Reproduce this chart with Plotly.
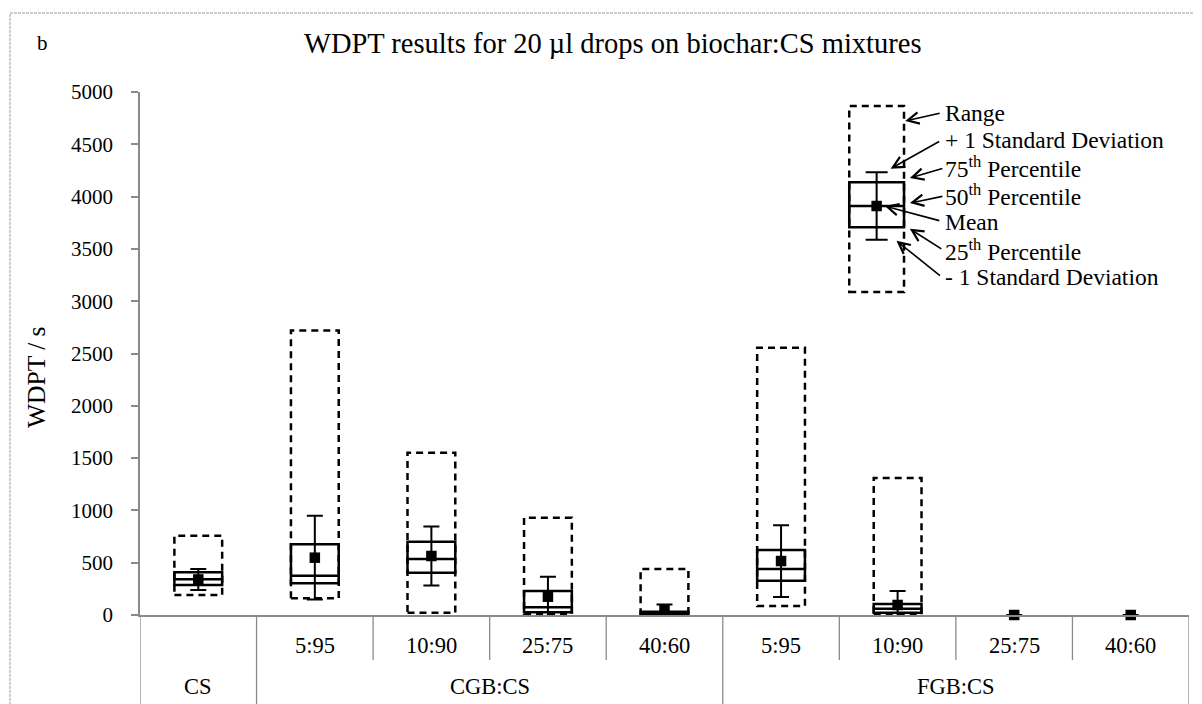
import plotly.graph_objects as go

# ---------------- data ----------------
sub_labels = ["", "5:95", "10:90", "25:75", "40:60", "5:95", "10:90", "25:75", "40:60"]
group_labels = ["CS", "CGB:CS", "FGB:CS"]
group_first = [0, 1, 5]
group_last = [0, 4, 8]

range_min = [191, 160, 22, 10, 8, 86, 6, 0, 0]
range_max = [758, 2720, 1552, 930, 440, 2555, 1310, 0, 0]
q1 = [287, 303, 404, 26, 6, 328, 22, 0, 0]
median = [341, 376, 535, 74, 16, 440, 60, 0, 0]
q3 = [408, 676, 701, 229, 32, 621, 105, 0, 0]
mean = [340, 548, 564, 175, 45, 516, 96, 0, 0]
sd = [100, 400, 282, 190, 55, 343, 133, None, None]

y_ticks = [0, 500, 1000, 1500, 2000, 2500, 3000, 3500, 4000, 4500, 5000]

# key (explanatory diagram)
key_pos = 5.82
key_range = [3088, 4866]
key_quart = [3707, 3910, 4137]
key_mean = 3910
key_sd = 322
key_labels = ["Range", "+ 1 Standard Deviation", "75<sup>th</sup> Percentile",
              "50<sup>th</sup> Percentile", "Mean", "25<sup>th</sup> Percentile",
              "- 1 Standard Deviation"]

title_text = "WDPT results for 20 \u00b5l drops on biochar:CS mixtures"

# ---------------- layout geometry ----------------
# the page adds an 8px body margin, so the figure is offset by 8px on screen
OFF = 8
W, H = 1202, 704
PLOT_L, PLOT_R, PLOT_T, PLOT_B = 140, 1189, 92, 615  # screen pixels of plot area
PW, PH = PLOT_R - PLOT_L, PLOT_B - PLOT_T
ML, MT = PLOT_L - OFF, PLOT_T - OFF
MR, MB = W - ML - PW, H - MT - PH
XR = [-0.5, len(sub_labels) - 0.5]
YR = [0, 5000]


def paper_x(px):
    return (px - PLOT_L) / PW


def paper_y(py):
    return (PLOT_B - py) / PH


def data_y(py):
    return YR[0] + (PLOT_B - py) / PH * (YR[1] - YR[0])


FONT = "Liberation Serif, Times New Roman, serif"
GRAY = "#8a8a8a"
BW = 0.41
KW = 0.47
DASH = "7px,5px"
LW = 2.5

shapes = []


def add_box(xc, w, rmin, rmax, a, m, b):
    shapes.append(dict(type="rect", xref="x", yref="y", x0=xc - w / 2, x1=xc + w / 2,
                       y0=rmin, y1=rmax, line=dict(color="black", width=LW, dash=DASH),
                       layer="below"))
    shapes.append(dict(type="rect", xref="x", yref="y", x0=xc - w / 2, x1=xc + w / 2,
                       y0=a, y1=b, line=dict(color="black", width=LW), layer="below"))
    shapes.append(dict(type="line", xref="x", yref="y", x0=xc - w / 2, x1=xc + w / 2,
                       y0=m, y1=m, line=dict(color="black", width=LW), layer="below"))


for i in range(len(sub_labels)):
    if range_max[i] > 0:
        add_box(i, BW, range_min[i], range_max[i], q1[i], median[i], q3[i])

add_box(key_pos, KW, key_range[0], key_range[1], key_quart[0], key_quart[1], key_quart[2])

# table lines below the axis
row1_bottom = paper_y(660)
for i in range(1, len(sub_labels)):
    b = i - 0.5
    full = any(abs(b - (g - 0.5)) < 1e-9 for g in group_first)
    shapes.append(dict(type="line", xref="x", yref="paper", x0=b, x1=b, y0=0,
                       y1=paper_y(720) if full else row1_bottom,
                       line=dict(color=GRAY, width=1.3)))
for b in (XR[0], XR[1]):
    shapes.append(dict(type="line", xref="x", yref="paper", x0=b, x1=b, y0=0,
                       y1=paper_y(720), line=dict(color=GRAY, width=1.3)))

# outer chart border
shapes.append(dict(type="rect", xref="paper", yref="paper", x0=paper_x(10), x1=paper_x(1208),
                   y0=paper_y(712), y1=paper_y(13),
                   line=dict(color="#9a9a9a", width=1, dash="3px,1px")))

fig = go.Figure()
fig.add_trace(go.Scatter(
    x=list(range(len(sub_labels))), y=mean, mode="markers",
    marker=dict(symbol="square", size=10.5, color="black"),
    error_y=dict(type="data", array=sd, visible=True, color="black", thickness=2, width=8),
    cliponaxis=False, showlegend=False, hoverinfo="skip"))
fig.add_trace(go.Scatter(
    x=[key_pos], y=[key_mean], mode="markers",
    marker=dict(symbol="square", size=10.5, color="black"),
    error_y=dict(type="data", array=[key_sd], visible=True, color="black", thickness=2, width=11),
    cliponaxis=False, showlegend=False, hoverinfo="skip"))

annotations = []
txt = dict(showarrow=False, xanchor="center", yanchor="middle")
# sub category labels
for i, lab in enumerate(sub_labels):
    if lab:
        annotations.append(dict(x=i, y=paper_y(645), xref="x", yref="paper", text=lab,
                                font=dict(size=22.5, family=FONT, color="black"), **txt))
for g, a, b in zip(group_labels, group_first, group_last):
    annotations.append(dict(x=(a + b) / 2, y=paper_y(686), xref="x", yref="paper", text=g,
                            font=dict(size=22.5, family=FONT, color="black"), **txt))

# key labels
label_py = [113, 140, 167, 195, 222, 250, 277]
for lab, py in zip(key_labels, label_py):
    annotations.append(dict(x=paper_x(943), y=paper_y(py), xref="paper", yref="paper",
                            text=lab, showarrow=False, xanchor="left", yanchor="middle",
                            font=dict(size=23.5, family=FONT, color="black")))

# key arrows: tip in data coords, tail as pixel offset
kr = key_pos + KW / 2
arrows = [
    (kr + 0.01, data_y(121), 36, -8),
    (key_pos + 0.12, key_mean + key_sd + 35, 50, -28),
    (kr + 0.05, key_quart[2] + 40, 34, -10),
    (kr + 0.05, key_quart[1] + 28, 34, -7),
    (key_pos + 0.07, key_mean, 56, 15),
    (kr + 0.05, key_quart[0] - 15, 33, 21),
    (key_pos + 0.17, key_mean - key_sd - 10, 45, 36),
]
for x, y, ax, ay in arrows:
    annotations.append(dict(x=x, y=y, xref="x", yref="y", ax=ax, ay=ay, text="",
                            showarrow=True, arrowhead=5, arrowsize=1.4, arrowwidth=1.6,
                            arrowcolor="black"))

# chart letter, title, y title
annotations.append(dict(x=paper_x(42), y=paper_y(43), xref="paper", yref="paper", text="b",
                        font=dict(size=21, family=FONT, color="black"), **txt))
annotations.append(dict(x=paper_x(613), y=paper_y(44), xref="paper", yref="paper",
                        text=title_text, font=dict(size=28.5, family=FONT, color="black"), **txt))
annotations.append(dict(x=paper_x(36), y=paper_y(377), xref="paper", yref="paper",
                        text="WDPT / s", textangle=-90,
                        font=dict(size=25.5, family=FONT, color="black"), **txt))

fig.update_layout(
    width=W, height=H, margin=dict(l=ML, r=MR, t=MT, b=MB, autoexpand=False),
    paper_bgcolor="white", plot_bgcolor="white", showlegend=False,
    shapes=shapes, annotations=annotations,
    xaxis=dict(range=XR, showticklabels=False, showgrid=False, zeroline=False,
               showline=True, linecolor=GRAY, linewidth=1.5, ticks="", fixedrange=True),
    yaxis=dict(range=YR, tickvals=y_ticks, showgrid=False, zeroline=False, showline=True,
               linecolor=GRAY, linewidth=1.5, ticks="outside", ticklen=7, tickcolor=GRAY,
               tickwidth=1.5, ticklabelstandoff=14,
               tickfont=dict(size=21, family=FONT, color="black"), fixedrange=True),
)

fig.write_html("out.html")
